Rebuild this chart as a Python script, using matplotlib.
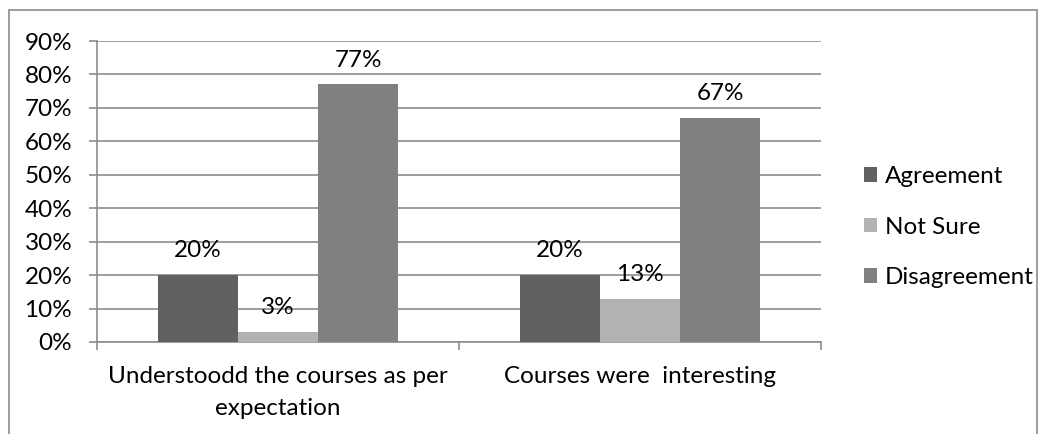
import matplotlib
matplotlib.use("Agg")
import matplotlib.pyplot as plt
import numpy as np
from matplotlib.patches import Rectangle

categories = ["Understoodd the courses as per\nexpectation", "Courses were  interesting"]
series_names = ["Agreement", "Not Sure", "Disagreement"]
agreement = [20, 20]
not_sure = [3, 13]
disagreement = [77, 67]
yticks = [0, 10, 20, 30, 40, 50, 60, 70, 80, 90]
colors = ["#616161", "#b2b2b2", "#808080"]

plt.rcParams['font.family'] = ['Lato', 'DejaVu Sans']
FS = 17.5

W, H = 1045, 434
fig = plt.figure(figsize=(W / 100, H / 100), dpi=100)
fig.patches.append(Rectangle((9 / W, -0.05), (1037 - 9) / W, 1.05 - 10 / H,
                             transform=fig.transFigure, fill=False,
                             edgecolor="#8c8c8c", linewidth=1.2))

ax = fig.add_axes([97 / W, 1 - 342 / H, (821 - 97) / W, (342 - 41) / H])
x = np.arange(len(categories))
bw = 80 / 362
series = [agreement, not_sure, disagreement]
for i, (name, vals, c) in enumerate(zip(series_names, series, colors)):
    pos = x + (i - 1) * bw
    ax.bar(pos, vals, width=bw, color=c, label=name, zorder=3)
    for xx, v in zip(pos, vals):
        ax.annotate(f"{v}%", (xx, v), xytext=(0, 10), textcoords="offset points",
                    ha="center", va="bottom", fontsize=FS, color="black")

ax.set_xlim(-0.5, 1.5)
ax.set_ylim(0, 90)
ax.set_yticks(yticks)
ax.set_yticklabels([f"{t}%" for t in yticks], fontsize=FS)
ax.yaxis.grid(True, color="#8c8c8c", linewidth=1.2, zorder=0)
ax.set_axisbelow(True)
for s in ["top", "right"]:
    ax.spines[s].set_visible(False)
for s in ["left", "bottom"]:
    ax.spines[s].set_color("#8c8c8c")
    ax.spines[s].set_linewidth(1.2)
ax.tick_params(axis="y", length=5.8, color="#8c8c8c", width=1.2, pad=12)
ax.set_xticks([-0.5, 0.5, 1.5], minor=False)
ax.set_xticklabels(["", "", ""])
ax.tick_params(axis="x", length=5.8, color="#8c8c8c", width=1.2, direction="out")
for xx, lab in zip(x, categories):
    ax.text(xx, -0.08, lab, transform=ax.get_xaxis_transform(), ha="center",
            va="top", fontsize=FS, linespacing=1.62)

ax.legend(loc="center left", bbox_to_anchor=(842 / W, 1 - 227 / H),
          bbox_transform=fig.transFigure, frameon=False, fontsize=FS,
          handlelength=0.55, handleheight=0.55, handletextpad=0.3,
          labelspacing=1.22)

fig.savefig("out.png", dpi=100)
